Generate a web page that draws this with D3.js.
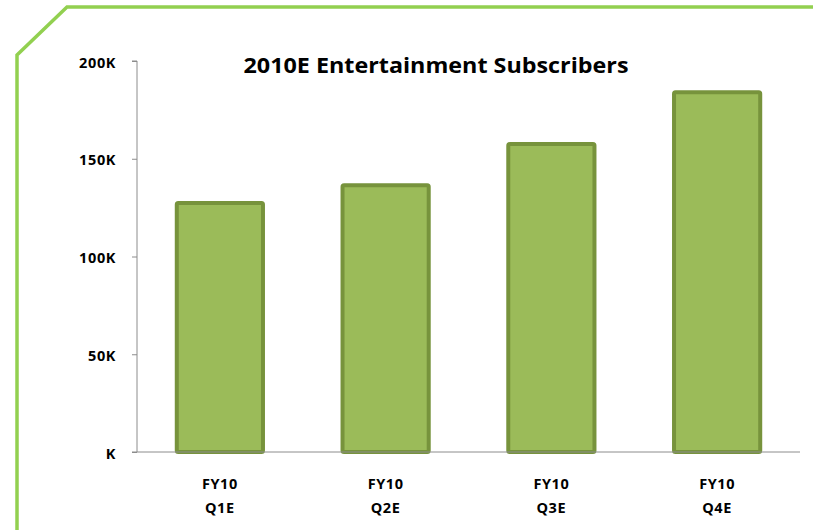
<!DOCTYPE html>
<html><head><meta charset="utf-8">
<script src="https://cdn.jsdelivr.net/npm/d3@7"></script>
<style>body{margin:0;background:#fff}svg{display:block}</style>
</head><body>
<svg id="c" width="813" height="530"></svg>
<script>
const categories = ["FY10 Q1E", "FY10 Q2E", "FY10 Q3E", "FY10 Q4E"];
const subscribers = [127400, 136500, 157500, 184000];
const yTicks = [0, 50000, 100000, 150000, 200000];
const title = "2010E Entertainment Subscribers";

const svg = d3.select("#c");
const font = "'Open Sans', sans-serif";

// frame
svg.append("path")
  .attr("d", "M17,532 L17,55 L67,7 L815,7")
  .attr("fill", "none").attr("stroke", "#92d050").attr("stroke-width", 3.5);

const m = {left: 137, right: 800, top: 61, bottom: 452};
const x = d3.scaleBand().domain(categories).range([m.left, m.right]).paddingInner(0.48).paddingOuter(0.24);
const y = d3.scaleLinear().domain([0, 200000]).range([m.bottom, m.top]);

// bars
svg.append("g").selectAll("rect").data(categories).join("rect")
  .attr("x", d => x(d))
  .attr("y", (d, i) => y(subscribers[i]))
  .attr("width", x.bandwidth())
  .attr("height", (d, i) => y(0) - y(subscribers[i]))
  .attr("fill", "#9bbb59").attr("stroke", "#77933c").attr("stroke-width", 4)
  .attr("rx", 1.5);

// y axis
const ya = svg.append("g").attr("transform", `translate(${m.left},0)`)
  .call(d3.axisLeft(y).tickValues(yTicks).tickSize(5).tickPadding(16)
    .tickFormat(d => d3.format("d")(d / 1000).replace(/^0$/, "") + "K"));
ya.select(".domain").attr("stroke", "#8c8c8c").attr("d", `M-5,${m.top}H0V${m.bottom}`);
ya.selectAll(".tick line").attr("stroke", "#8c8c8c");
ya.selectAll("text").attr("font-family", font).attr("font-weight", "bold").attr("font-size", 14.5)
  .attr("letter-spacing", 0.6).attr("dy", "0.42em").attr("fill", "#000");

// x axis
svg.append("line").attr("x1", m.left - 5).attr("x2", m.right).attr("y1", m.bottom).attr("y2", m.bottom)
  .attr("stroke", "#8c8c8c").attr("stroke-width", 1);

const xl = svg.append("g").selectAll("text").data(categories).join("text")
  .attr("text-anchor", "middle")
  .attr("font-family", font).attr("font-weight", "bold").attr("font-size", 14.5)
  .attr("letter-spacing", 0.6).attr("fill", "#000");
xl.append("tspan").attr("x", d => x(d) + x.bandwidth() / 2).attr("y", 489).text(d => d.split(" ")[0]);
xl.append("tspan").attr("x", d => x(d) + x.bandwidth() / 2).attr("y", 513).text(d => d.split(" ")[1]);

// title
svg.append("text").attr("x", 436).attr("y", 73).attr("text-anchor", "middle")
  .attr("font-family", font).attr("font-weight", "bold").attr("font-size", 22).attr("fill", "#000")
  .attr("textLength", 385).attr("lengthAdjust", "spacingAndGlyphs")
  .text(title);
</script>
</body></html>
